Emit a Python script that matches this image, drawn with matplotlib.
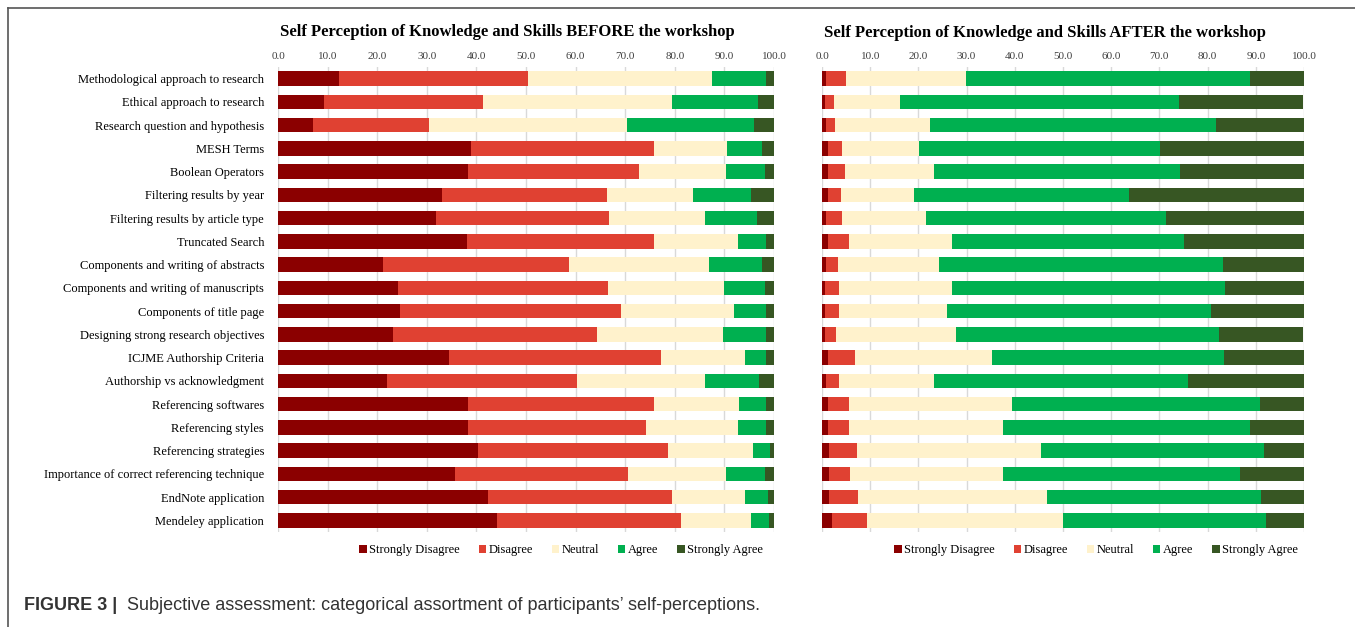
import matplotlib.pyplot as plt
from matplotlib.lines import Line2D
from matplotlib.patches import Patch

items = [
    "Methodological approach to research",
    "Ethical approach to research",
    "Research question and hypothesis",
    "MESH Terms",
    "Boolean Operators",
    "Filtering results by year",
    "Filtering results by article type",
    "Truncated Search",
    "Components and writing of abstracts",
    "Components and writing of manuscripts",
    "Components of title page",
    "Designing strong research objectives",
    "ICJME Authorship Criteria",
    "Authorship vs acknowledgment",
    "Referencing softwares",
    "Referencing styles",
    "Referencing strategies",
    "Importance of correct referencing technique",
    "EndNote application",
    "Mendeley application",
]

levels = ["Strongly Disagree", "Disagree", "Neutral", "Agree", "Strongly Agree"]
colors = ["#8B0000", "#E04132", "#FFF2CC", "#00B050", "#375623"]

# percentages before the workshop
before_sd = [12.2, 9.2, 7.1, 38.9, 38.4, 33.0, 31.9, 38.1, 21.2, 24.2,
             24.5, 23.1, 34.4, 22.0, 38.4, 38.4, 40.3, 35.7, 42.4, 44.1]
before_d = [38.3, 32.2, 23.3, 37.0, 34.3, 33.3, 34.9, 37.8, 37.5, 42.3,
            44.7, 41.3, 42.8, 38.3, 37.5, 35.7, 38.3, 34.9, 37.0, 37.2]
before_n = [36.9, 38.0, 39.9, 14.7, 17.6, 17.3, 19.2, 16.8, 28.1, 23.5,
            22.7, 25.4, 16.9, 25.8, 17.1, 18.6, 17.1, 19.7, 14.7, 14.1]
before_a = [11.0, 17.4, 25.7, 7.0, 7.8, 11.8, 10.5, 5.7, 10.8, 8.1,
            6.5, 8.6, 4.3, 10.9, 5.4, 5.7, 3.5, 7.8, 4.6, 3.5]
before_sa = [1.6, 3.2, 4.0, 2.4, 1.9, 4.6, 3.5, 1.6, 2.4, 1.9,
             1.6, 1.6, 1.6, 3.0, 1.6, 1.6, 0.8, 1.9, 1.3, 1.1]

# percentages after the workshop
after_sd = [0.8, 0.6, 0.8, 1.2, 1.2, 1.2, 0.8, 1.2, 0.8, 0.6,
            0.6, 0.6, 1.2, 0.8, 1.2, 1.2, 1.5, 1.5, 1.5, 2.1]
after_d = [4.2, 1.9, 2.0, 2.9, 3.5, 2.7, 3.3, 4.3, 2.5, 3.0,
           3.0, 2.4, 5.7, 2.8, 4.3, 4.3, 5.7, 4.3, 6.0, 7.2]
after_n = [24.9, 13.6, 19.6, 16.1, 18.5, 15.2, 17.5, 21.5, 20.9, 23.4,
           22.3, 24.8, 28.3, 19.6, 34.0, 32.1, 38.3, 31.8, 39.1, 40.6]
after_a = [59.0, 57.9, 59.4, 50.0, 51.1, 44.6, 49.7, 48.1, 59.0, 56.7,
           54.9, 54.6, 48.3, 52.7, 51.4, 51.1, 46.1, 49.2, 44.5, 42.3]
after_sa = [11.1, 25.7, 18.2, 29.8, 25.7, 36.3, 28.7, 24.9, 16.8, 16.3,
            19.2, 17.3, 16.5, 24.1, 9.1, 11.3, 8.4, 13.2, 8.9, 7.8]

ticks = [0, 10, 20, 30, 40, 50, 60, 70, 80, 90, 100]

serif = "Liberation Serif"


def draw(ax, series, show_labels):
    y = list(range(len(items)))
    left = [0.0] * len(items)
    for vals, col, lab in zip(series, colors, levels):
        ax.barh(y, vals, left=left, height=0.62, color=col, label=lab, zorder=3)
        left = [a + b for a, b in zip(left, vals)]
    ax.set_xlim(0, 100)
    ax.set_ylim(len(items) - 0.5, -0.5)
    ax.set_xticks(ticks)
    ax.set_xticklabels([f"{t:.1f}" for t in ticks], fontsize=8,
                       family=serif, color="#404040")
    ax.xaxis.tick_top()
    ax.tick_params(axis="x", length=0, pad=4)
    ax.tick_params(axis="y", length=0, pad=10)
    ax.set_yticks(y)
    if show_labels:
        ax.set_yticklabels(items, fontsize=9, family=serif)
    else:
        ax.set_yticklabels([])
    ax.grid(axis="x", color="#D9D9D9", linewidth=1, zorder=0)
    for s in ax.spines.values():
        s.set_visible(False)


fig = plt.figure(figsize=(13.55, 6.27), dpi=100)

ax1 = fig.add_axes([278 / 1355, 1 - 532 / 627, 496 / 1355, 465 / 627])
ax2 = fig.add_axes([822 / 1355, 1 - 532 / 627, 482 / 1355, 465 / 627])

draw(ax1, [before_sd, before_d, before_n, before_a, before_sa], True)
draw(ax2, [after_sd, after_d, after_n, after_a, after_sa], False)

fig.text(507 / 1355, 1 - 32 / 627, "Self Perception of Knowledge and Skills BEFORE the workshop",
         ha="center", va="center", fontsize=12, fontweight="bold", family=serif)
fig.text(1045 / 1355, 1 - 33 / 627, "Self Perception of Knowledge and Skills AFTER the workshop",
         ha="center", va="center", fontsize=12, fontweight="bold", family=serif)

handles = [Patch(facecolor=c, edgecolor="none") for c in colors]
for cx in (561, 1096):
    fig.legend(handles, levels, loc="center", bbox_to_anchor=(cx / 1355, 1 - 550 / 627),
               ncol=5, frameon=False, prop={"family": serif, "size": 9},
               handlelength=0.6, handleheight=0.6, handletextpad=0.2,
               columnspacing=1.5)

# outer frame lines (top and left)
fig.add_artist(Line2D([8 / 1355, 1], [1 - 8 / 627, 1 - 8 / 627], color="#555555", linewidth=1.2))
fig.add_artist(Line2D([8 / 1355, 8 / 1355], [0, 1 - 8 / 627], color="#555555", linewidth=1.2))

fig.text(24 / 1355, 1 - 605 / 627, "FIGURE 3 |", ha="left", va="center",
         fontsize=13, fontweight="bold", family="Liberation Sans", color="#333333")
fig.text(127 / 1355, 1 - 605 / 627,
         "Subjective assessment: categorical assortment of participants\u2019 self-perceptions.",
         ha="left", va="center", fontsize=13, family="Liberation Sans", color="#333333")

fig.savefig("out.png", dpi=100)
